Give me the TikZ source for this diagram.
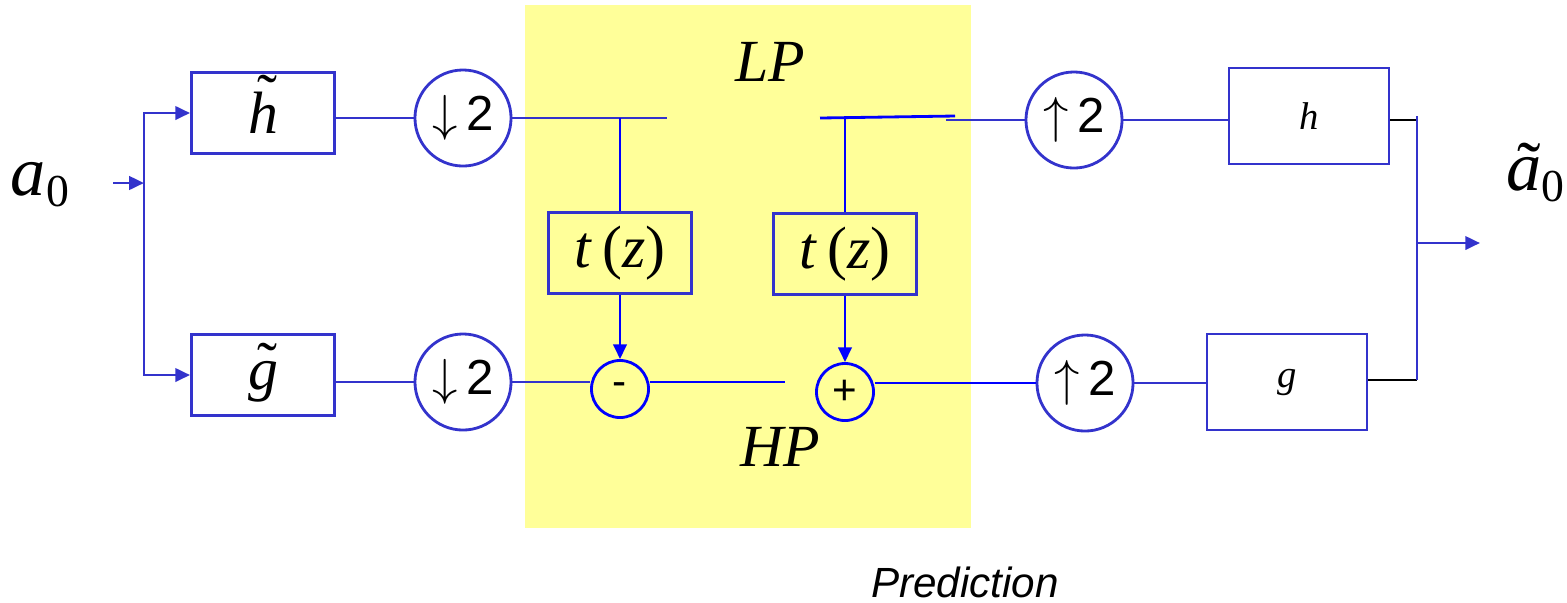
\documentclass[tikz,border=0pt]{standalone}
\usepackage{fontspec}
\setmainfont{Liberation Serif}
\setsansfont{Liberation Sans}
\usetikzlibrary{arrows.meta}
\definecolor{lblue}{RGB}{51,51,204}
\definecolor{pblue}{RGB}{0,0,255}
\definecolor{pyel}{RGB}{255,255,153}
\newcommand\tildeover[2][0pt]{\ooalign{#2\cr\hidewidth\kern0.15em\raisebox{#1}{\upshape\char"02DC}\hidewidth\cr}}
\begin{document}
\begin{tikzpicture}[x=0.01cm,y=-0.01cm,
  wire/.style={draw=lblue, line width=0.8pt},
  bwire/.style={draw=pblue, line width=0.8pt},
  kwire/.style={draw=black, line width=0.8pt},
  arr/.style={-{Triangle[length=4.2pt,width=3.8pt]}},
  blk/.style={draw=lblue, line width=0.8pt, inner sep=0pt, minimum width=1.43cm, minimum height=0.81cm},
  rblk/.style={draw=lblue, line width=0.8pt, inner sep=0pt, minimum width=1.6cm, minimum height=0.96cm},
  rate/.style={draw=lblue, line width=0.8pt, circle, inner sep=0pt, minimum size=0.96cm, font=\fontsize{14}{16}\sffamily},
  sumc/.style={draw=pblue, line width=0.8pt, circle, inner sep=0pt, minimum size=0.57cm, font=\fontsize{12}{14}\sffamily},
  bigit/.style={font=\fontsize{17}{20}\selectfont\itshape}
]
\useasboundingbox (0,0) rectangle (1567,602);
\fill[pyel] (525,5) rectangle (971,528);

% labels
\node[bigit] (LP) at (770,62) {LP};
\node[bigit] (HP) at (780,447) {HP};
\node[font=\fontsize{12}{14}\sffamily\itshape] (pred) at (965,582) {Prediction};
\node[font=\fontsize{20}{24}\selectfont] (a0) at (40,185) {\textit{a}\raisebox{-0.35ex}{\fontsize{13}{15}\selectfont 0}};
\node[font=\fontsize{20}{24}\selectfont] (a0t) at (1535,180) {\tildeover{\textit{a}}\raisebox{-0.35ex}{\fontsize{13}{15}\selectfont 0}};

% analysis
\node[blk, font=\fontsize{17}{20}\selectfont] (ht) at (263,113) {\tildeover[0.3em]{\textit{h}}};
\node[blk, font=\fontsize{17}{20}\selectfont] (gt) at (263,375) {\tildeover[0.1em]{\textit{g}}};
\node[rate] (d1) at (463,118) {$\downarrow$\,2};
\node[rate] (d2) at (463,382) {$\downarrow$\,2};

% lifting
\node[blk, font=\fontsize{17}{20}\selectfont] (t1) at (620,253) {\textit{t}\,(\textit{z})};
\node[blk, font=\fontsize{17}{20}\selectfont] (t2) at (845,254) {\textit{t}\,(\textit{z})};
\node[sumc] (mi) at (620,389) {-};
\node[sumc] (pl) at (845,392) {+};

% synthesis
\node[rate] (u1) at (1074,120) {$\uparrow$\,2};
\node[rate] (u2) at (1085,383) {$\uparrow$\,2};
\node[rblk, font=\fontsize{11}{13}\selectfont] (hr) at (1309,116) {\textit{h}};
\node[rblk, font=\fontsize{11}{13}\selectfont] (gr) at (1287,382) {\textit{g}};

\coordinate (in) at (113,183);
\coordinate (sp) at (144,183);
\coordinate (tl) at (667,118);
\coordinate (b1) at (620,118);
\coordinate (mo) at (785,382);
\coordinate (tr1) at (820,118);
\coordinate (tr2) at (955,116);
\coordinate (tr3) at (946,120);
\coordinate (b2) at (845,118);
\coordinate (jt) at (1417,120);
\coordinate (jb) at (1417,380);
\coordinate (jm) at (1417,243);
\coordinate (out) at (1480,243);

% connectors
\draw[wire,arr] (in) -- (sp);
\draw[wire,arr] (sp) |- (ht.west);
\draw[wire,arr] (sp) |- (gt.west);
\draw[wire] (ht.east |- d1) -- (d1.west);
\draw[wire] (gt.east |- d2) -- (d2.west);
\draw[wire] (d1.east) -- (tl);
\draw[bwire] (b1) -- (t1.north);
\draw[bwire,arr] (t1.south) -- (mi.north);
\draw[wire] (d2.east) -- (d2.east -| mi.west);
\draw[bwire] (mi.east |- d2.east) -- (mo);
\draw[bwire] (tr1) -- (tr2);
\draw[wire] (tr3) -- (u1.west);
\draw[bwire] (b2) -- (t2.north);
\draw[bwire,arr] (t2.south) -- (pl.north);
\draw[bwire] (pl.east |- u2.west) -- (u2.west);
\draw[wire] (u1.east) -- (hr.west |- u1.east);
\draw[wire] (u2.east) -- (gr.west |- u2.east);
\draw[kwire] (hr.east |- jt) -- (jt);
\draw[kwire] (gr.east |- jb) -- (jb);
\draw[wire] (1417,116) -- (jb);
\draw[wire,arr] (jm) -- (out);
\end{tikzpicture}
\end{document}
